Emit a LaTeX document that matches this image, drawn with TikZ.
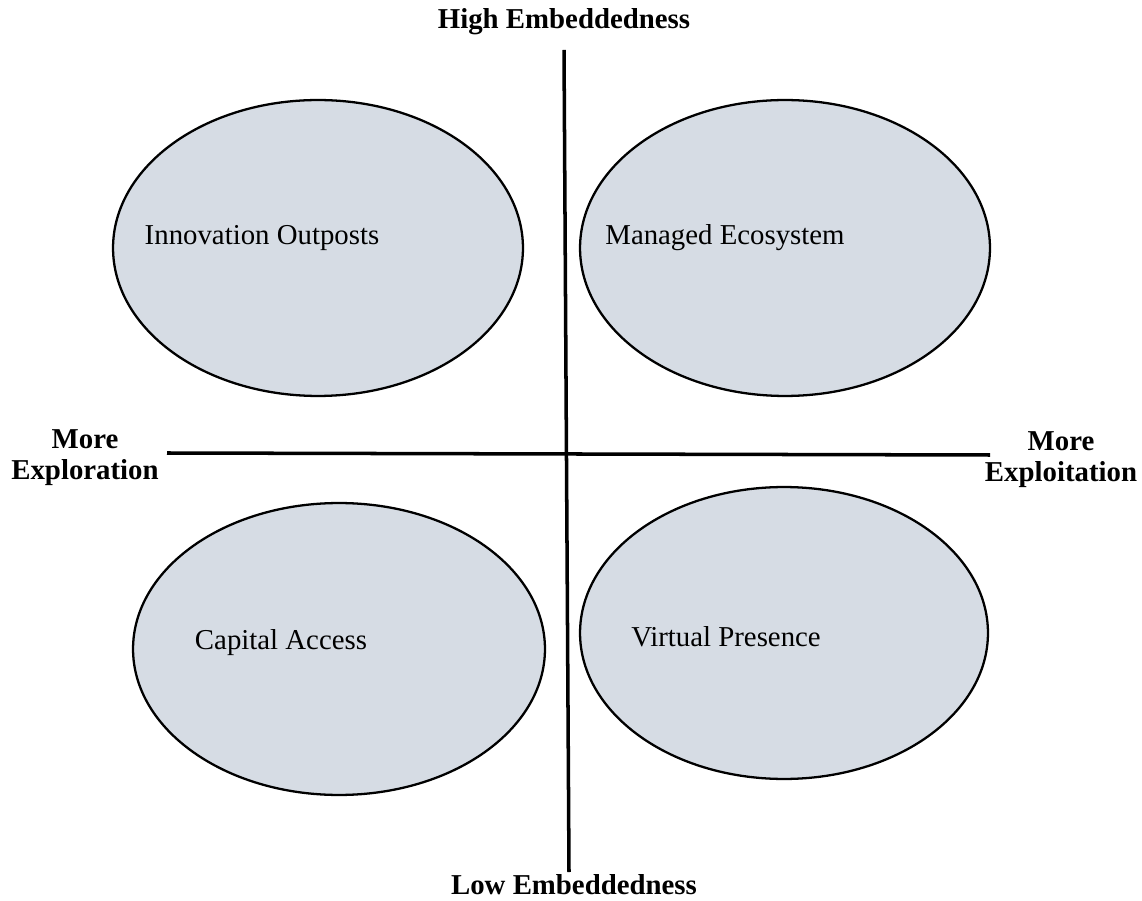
\documentclass[tikz,border=0pt]{standalone}
\usepackage{fontspec}
\setmainfont{Liberation Serif}
\usepackage{tikz}

\definecolor{ovalfill}{RGB}{214,220,228}
\tikzset{
	oval/.style={fill=ovalfill, draw=black, line width=1.3pt},
	axisline/.style={line width=2pt},
	quadtext/.style={font=\fontsize{16.4}{19.7}\selectfont},
	axistext/.style={font=\fontsize{16.4}{17.6}\selectfont\bfseries, align=center}
}

\begin{document}
\begin{tikzpicture}[x=0.02cm, y=-0.02cm]
				\useasboundingbox (0,0) rectangle (1142,901);
				\draw[oval] (318,248) ellipse (4.1cm and 2.96cm);
				\draw[oval] (785,248) ellipse (4.1cm and 2.96cm);
				\draw[oval] (339,649) ellipse (4.12cm and 2.92cm);
				\draw[oval] (784,633) ellipse (4.08cm and 2.92cm);
				\node[quadtext] (outposts) at (262,238) {Innovation Outposts};
				\node[quadtext] (ecosystem) at (725,238) {Managed Ecosystem};
				\node[quadtext] (capital) at (281,643) {Capital Access};
				\node[quadtext] (virtual) at (726,637) {Virtual Presence};
				\coordinate (ytop) at (564,50);
				\coordinate (ybot) at (569,872);
				\coordinate (xleft) at (167,453);
				\coordinate (xright) at (990,455);
				\draw[axisline] (ytop) -- (ybot);
				\draw[axisline] (xleft) -- (xright);
				\node[axistext] (high) at (564,22) {High Embeddedness};
				\node[axistext] (low) at (574,885) {Low Embeddedness};
				\node[axistext] (explore) at (85,458) {More\\Exploration};
				\node[axistext] (exploit) at (1061,460) {More\\Exploitation};
			\end{tikzpicture}
\end{document}
